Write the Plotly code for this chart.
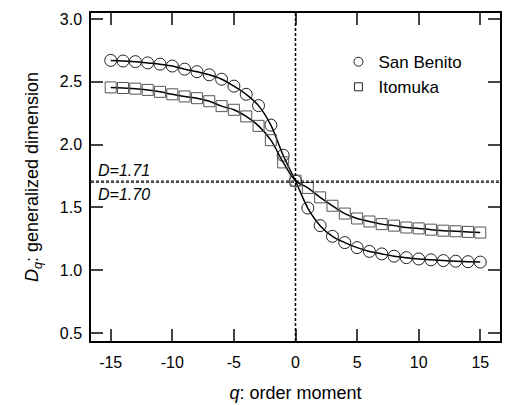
import plotly.graph_objects as go

q = list(range(-15, 16))
san_benito = [2.670, 2.665, 2.660, 2.650, 2.640, 2.625, 2.600, 2.580, 2.555, 2.520,
              2.465, 2.400, 2.310, 2.155, 1.915, 1.710, 1.495, 1.355, 1.270, 1.220,
              1.180, 1.150, 1.130, 1.112, 1.100, 1.090, 1.083, 1.077, 1.072, 1.068, 1.065]
itomuka = [2.455, 2.450, 2.445, 2.435, 2.420, 2.400, 2.383, 2.369, 2.345, 2.306,
           2.277, 2.224, 2.149, 2.035, 1.858, 1.713, 1.655, 1.580, 1.513, 1.451,
           1.412, 1.388, 1.367, 1.355, 1.340, 1.333, 1.323, 1.315, 1.310, 1.305, 1.300]
ref_levels = [1.71, 1.70]
ref_labels = ["D=1.71", "D=1.70"]
x_ticks = [-15, -10, -5, 0, 5, 10, 15]
x_ticktext = ["-15", "-10", "-5", "0", "5", "10", "15"]
y_ticks = [0.5, 1.0, 1.5, 2.0, 2.5, 3.0]
y_ticktext = ["0.5", "1.0", "1.5", "2.0", "2.5", "3.0"]

FONT = "Liberation Sans, Arial, sans-serif"

fig = go.Figure()

# fitted curves
for ys in (san_benito, itomuka):
    fig.add_trace(go.Scatter(x=q, y=ys, mode="lines",
                             line=dict(color="black", width=1.5, shape="spline", smoothing=1.0),
                             showlegend=False, hoverinfo="skip"))

fig.add_trace(go.Scatter(x=q, y=san_benito, mode="markers", name="San Benito", showlegend=False,
                         marker=dict(symbol="circle-open", size=12, color="#222", line=dict(width=1, color="#222"))))
fig.add_trace(go.Scatter(x=q, y=itomuka, mode="markers", name="Itomuka", showlegend=False,
                         marker=dict(symbol="square-open", size=11, color="#555", line=dict(width=1, color="#555"))))

# legend entries (smaller symbols as in the reference)
fig.add_trace(go.Scatter(x=[None], y=[None], mode="markers", name="San Benito",
                         marker=dict(symbol="circle-open", size=9, color="#222", line=dict(width=1, color="#222"))))
fig.add_trace(go.Scatter(x=[None], y=[None], mode="markers", name="Itomuka",
                         marker=dict(symbol="square-open", size=8, color="#222", line=dict(width=1, color="#222"))))

# reference lines
for lv in ref_levels:
    fig.add_hline(y=lv, line=dict(color="black", width=1, dash="3px,2px"))
fig.add_vline(x=0, line=dict(color="black", width=1.5, dash="3px,2px"))

fig.add_annotation(x=-16.6, y=ref_levels[0], xref="x", yref="y", text="<i>" + ref_labels[0] + "</i>",
                   showarrow=False, xanchor="left", yanchor="bottom", xshift=5, yshift=0,
                   font=dict(family=FONT, size=16, color="black"))
fig.add_annotation(x=-16.6, y=ref_levels[1], xref="x", yref="y", text="<i>" + ref_labels[1] + "</i>",
                   showarrow=False, xanchor="left", yanchor="top", xshift=5, yshift=-2,
                   font=dict(family=FONT, size=16, color="black"))

fig.update_layout(
    width=507, height=405,
    margin=dict(l=91, r=5, t=13, b=60),
    paper_bgcolor="white", plot_bgcolor="white",
    font=dict(family=FONT, size=16, color="black"),
    legend=dict(x=0.605, y=0.905, xanchor="left", yanchor="top", bgcolor="rgba(0,0,0,0)",
                font=dict(family=FONT, size=17), tracegroupgap=0),
    xaxis=dict(range=[-16.6, 16.6], tickvals=x_ticks, ticktext=x_ticktext, ticks="inside", ticklen=12,
               tickwidth=1.5, showline=True, linewidth=1.5, linecolor="black", mirror="ticks",
               showgrid=False, zeroline=False, ticklabelstandoff=6,
               title=dict(text="<i>q</i>: order moment", font=dict(size=18), standoff=16),
               tickfont=dict(size=16)),
    yaxis=dict(range=[0.437, 3.047], tickvals=y_ticks, ticktext=y_ticktext, ticks="inside", ticklen=12,
               tickwidth=1.5, showline=True, linewidth=1.5, linecolor="black", mirror="ticks",
               showgrid=False, zeroline=False, ticklabelstandoff=4,
               title=dict(text="<i>D</i><sub><i>q</i></sub>: generalized dimension", font=dict(size=18),
                          standoff=16),
               tickfont=dict(size=16)),
)

fig.write_html("out.html")
